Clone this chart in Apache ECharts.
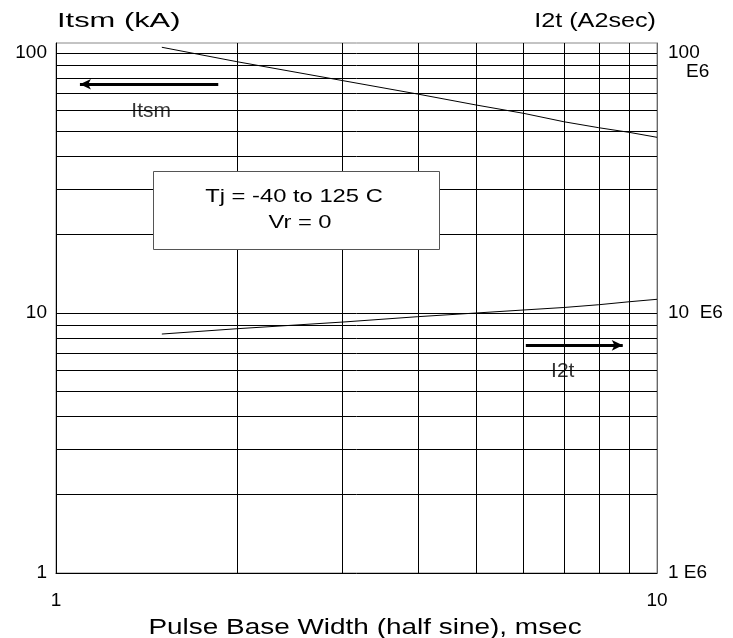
<!DOCTYPE html>
<html>
<head>
<meta charset="utf-8">
<script src="https://cdn.jsdelivr.net/npm/echarts@6/dist/echarts.min.js"></script>
<style>
html,body{margin:0;padding:0;background:#fff;}
#chart{width:733px;height:638px;}
</style>
</head>
<body>
<div id="chart"></div>
<script>
// ---- data ----
const pulseWidth = [1.5, 2, 3, 4, 5, 6, 7, 8, 9, 10];            // msec
const itsmValues = [105.2, 92.6, 78.3, 69.5, 63.1, 58.6, 54.4, 51.6, 49.5, 47.4]; // kA
const i2tValues  = [8.30, 8.70, 9.23, 9.68, 10.0, 10.27, 10.5, 10.76, 11.05, 11.29]; // E6 A2sec

const xGridValues = [2, 3, 4, 5, 6, 7, 8, 9];
const yGridValues = [2, 3, 4, 5, 6, 7, 8, 9, 10, 20, 30, 40, 50, 60, 70, 80, 90, 100];

const xTickLabels = {1: '1', 10: '10'};
const leftTickLabels = {1: '1', 10: '10', 100: '100'};
const rightTickLabels = {1: '1 E6', 10: '10  E6', 100: ' \n100\n{e|E6}'};

const itsmArrow = [[1.862, 75.8], [1.096, 75.8]];
const i2tArrow  = [[6.05, 7.51], [8.77, 7.51]];
const itsmLabelPos = [1.44, 59.8];
const i2tLabelPos  = [6.97, 5.95];

const conditionLines = ['Tj = -40 to 125 C', 'Vr = 0'];

// ---- chart ----
const FONT = "'Liberation Sans', Arial, Helvetica, sans-serif";
const yMax = Math.pow(10, 2 + 10 / 260);

function pickLabel(map) {
  return function (v) {
    const l = Math.log10(v);
    const r = Math.round(l);
    if (Math.abs(l - r) < 1e-6) {
      const key = Math.pow(10, r);
      return map[key] !== undefined ? map[key] : '';
    }
    return '';
  };
}

const gridLines = [];
xGridValues.forEach(v => gridLines.push({xAxis: v}));
yGridValues.forEach(v => gridLines.push({yAxis: v}));

const chart = echarts.init(document.getElementById('chart'), null, {renderer: 'canvas'});
chart.setOption({
  animation: false,
  backgroundColor: '#fff',
  textStyle: {fontFamily: FONT},
  grid: {left: 56, right: 76, top: 43, bottom: 65, show: true, borderColor: '#888', borderWidth: 1, backgroundColor: '#fff'},
  xAxis: {
    type: 'log', min: 1, max: 10, logBase: 10,
    axisLine: {show: true, lineStyle: {color: '#000', width: 1}},
    axisTick: {show: false},
    splitLine: {show: false},
    axisLabel: {formatter: pickLabel(xTickLabels), color: '#000', fontSize: 19, fontFamily: FONT, margin: 18, showMinLabel: true, showMaxLabel: true}
  },
  yAxis: [{
    type: 'log', min: 1, max: yMax, logBase: 10, position: 'left',
    axisLine: {show: true, lineStyle: {color: '#000', width: 1}},
    axisTick: {show: false},
    splitLine: {show: false},
    axisLabel: {formatter: pickLabel(leftTickLabels), color: '#000', fontSize: 19, fontFamily: FONT, margin: 9, showMinLabel: true, showMaxLabel: true}
  }, {
    type: 'log', min: 1, max: yMax, logBase: 10, position: 'right',
    axisLine: {show: true, lineStyle: {color: '#666', width: 1}},
    axisTick: {show: false},
    splitLine: {show: false},
    axisLabel: {
      formatter: pickLabel(rightTickLabels), color: '#000', fontSize: 19, fontFamily: FONT, margin: 11,
      lineHeight: 19, showMinLabel: true, showMaxLabel: true,
      rich: {e: {fontSize: 19, fontFamily: FONT, color: '#000', padding: [0, 0, 0, 18], lineHeight: 19}}
    }
  }],
  series: [{
    name: 'Itsm', type: 'line', yAxisIndex: 0, z: 3,
    data: pulseWidth.map((x, i) => [x, itsmValues[i]]),
    showSymbol: false, symbol: 'none', lineStyle: {color: '#000', width: 1}, silent: true,
    markLine: {
      silent: true, symbol: ['none', 'none'], animation: false, z: 1,
      label: {show: false},
      lineStyle: {color: '#000', width: 1, type: 'solid', opacity: 1},
      emphasis: {disabled: true},
      data: gridLines
    }
  }, {
    name: 'I2t', type: 'line', yAxisIndex: 1, z: 3,
    data: pulseWidth.map((x, i) => [x, i2tValues[i]]),
    showSymbol: false, symbol: 'none', lineStyle: {color: '#000', width: 1}, silent: true
  }, {
    name: 'arrows', type: 'scatter', yAxisIndex: 0, z: 4, symbolSize: 0, silent: true,
    data: [
      {value: itsmLabelPos, name: 'Itsm'},
      {value: i2tLabelPos, name: 'I2t'}
    ],
    label: {show: true, position: 'inside', formatter: '{b}', color: '#000', fontSize: 21, fontFamily: FONT},
    markLine: {
      silent: true, symbol: ['none', 'arrow'], symbolSize: [8, 11], animation: false,
      label: {show: false},
      lineStyle: {color: '#000', width: 3, type: 'solid', opacity: 1},
      emphasis: {disabled: true},
      data: [
        [{coord: itsmArrow[0]}, {coord: itsmArrow[1]}],
        [{coord: i2tArrow[0]}, {coord: i2tArrow[1]}]
      ]
    }
  }],
  graphic: [
    {type: 'text', x: 57, y: 21, z: 100, scaleX: 1.47,
      style: {text: 'Itsm (kA)', font: '21px ' + FONT, fill: '#000', textAlign: 'left', textVerticalAlign: 'middle'}},
    {type: 'text', x: 656, y: 21, z: 100, scaleX: 1.2,
      style: {text: 'I2t (A2sec)', font: '21px ' + FONT, fill: '#000', textAlign: 'right', textVerticalAlign: 'middle'}},
    {type: 'text', x: 365, y: 628, z: 100, scaleX: 1.27,
      style: {text: 'Pulse Base Width (half sine), msec', font: '22px ' + FONT, fill: '#000', textAlign: 'center', textVerticalAlign: 'middle'}},
    {type: 'rect', z: 100, shape: {x: 153.5, y: 171.5, width: 286, height: 78},
      style: {fill: '#fff', stroke: '#555', lineWidth: 1}},
    {type: 'text', x: 294, y: 197, z: 101, scaleX: 1.25,
      style: {text: conditionLines[0], font: '19px ' + FONT, fill: '#000', textAlign: 'center', textVerticalAlign: 'middle'}},
    {type: 'text', x: 300, y: 223, z: 101, scaleX: 1.25,
      style: {text: conditionLines[1], font: '19px ' + FONT, fill: '#000', textAlign: 'center', textVerticalAlign: 'middle'}}
  ]
});
</script>
</body>
</html>
